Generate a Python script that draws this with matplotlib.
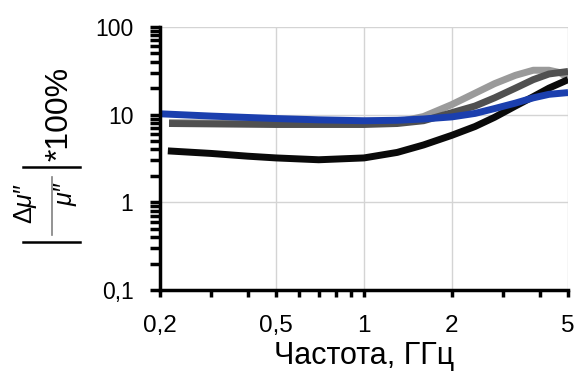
import matplotlib
matplotlib.use('Agg')
import matplotlib.pyplot as plt
from matplotlib.lines import Line2D
from matplotlib.ticker import FixedLocator, FixedFormatter, NullFormatter
import numpy as np

plt.rcParams['font.family'] = ['Liberation Sans', 'DejaVu Sans']
plt.rcParams['mathtext.fontset'] = 'custom'
plt.rcParams['mathtext.rm'] = 'Liberation Sans'
plt.rcParams['mathtext.it'] = 'Liberation Sans:italic'
plt.rcParams['mathtext.sf'] = 'Liberation Sans'

# частоты, ГГц
f_black = [0.213, 0.3, 0.4, 0.5, 0.7, 1.0, 1.3, 1.6, 2.0, 2.4, 2.8, 3.3, 3.8, 4.3, 5.0]
d_black = [3.85, 3.6, 3.35, 3.2, 3.05, 3.2, 3.7, 4.5, 5.8, 7.3, 9.3, 12.5, 16.0, 20.0, 25.0]

f_light = [0.215, 0.3, 0.5, 0.7, 1.0, 1.3, 1.6, 2.0, 2.4, 2.8, 3.3, 3.8, 4.3, 4.7, 5.0]
d_light = [8.1, 8.0, 7.9, 7.9, 7.9, 8.2, 9.5, 13.0, 17.5, 22.5, 28.0, 32.0, 32.0, 30.0, 26.0]

f_dark = [0.215, 0.5, 1.0, 1.3, 1.6, 2.0, 2.4, 2.8, 3.3, 3.8, 4.3, 5.0]
d_dark = [7.9, 7.7, 7.7, 7.9, 8.5, 10.5, 12.5, 15.5, 20.0, 25.0, 29.0, 31.0]

f_blue = [0.2, 0.3, 0.5, 0.7, 1.0, 1.3, 1.6, 2.0, 2.4, 2.8, 3.3, 3.8, 4.3, 5.0]
d_blue = [10.2, 9.6, 9.0, 8.7, 8.5, 8.6, 8.9, 9.4, 10.3, 11.7, 13.5, 15.5, 17.0, 17.8]

x_major = [0.2, 0.5, 1, 2, 5]
x_labels = ['0,2', '0,5', '1', '2', '5']
x_minor = [0.3, 0.4, 0.6, 0.7, 0.8, 0.9, 3, 4]
y_major = [0.1, 1, 10, 100]
y_labels = ['0,1', '1', '10', '100']

W, H = 575, 378
fig = plt.figure(figsize=(W / 100, H / 100), dpi=100)
ax = fig.add_axes([0.278, 0.233, 0.710, 0.696])

lw = 5.0
ax.plot(f_light, d_light, color='#9a9a9a', lw=lw, solid_capstyle='butt', zorder=3)
ax.plot(f_dark, d_dark, color='#505050', lw=lw, solid_capstyle='butt', zorder=4)
ax.plot(f_black, d_black, color='#0a0a0a', lw=lw, solid_capstyle='butt', zorder=5)
ax.plot(f_blue, d_blue, color='#1b3fae', lw=lw, solid_capstyle='butt', zorder=6)

ax.set_xscale('log')
ax.set_yscale('log')
ax.set_xlim(0.2, 5)
ax.set_ylim(0.1, 100)

ax.xaxis.set_major_locator(FixedLocator(x_major))
ax.xaxis.set_major_formatter(FixedFormatter(x_labels))
ax.xaxis.set_minor_locator(FixedLocator(x_minor))
ax.xaxis.set_minor_formatter(NullFormatter())
ax.yaxis.set_major_locator(FixedLocator(y_major))
ax.yaxis.set_major_formatter(FixedFormatter(y_labels))
ax.yaxis.set_minor_locator(FixedLocator([m * 10.0 ** e for e in (-1, 0, 1) for m in range(2, 10)]))
ax.yaxis.set_minor_formatter(NullFormatter())

ax.grid(True, which='major', color='#d4d4d4', lw=1.0, zorder=0)
for s in ('top', 'right'):
    ax.spines[s].set_visible(False)
for s in ('left', 'bottom'):
    ax.spines[s].set_linewidth(2.5)
    ax.spines[s].set_zorder(7)

ax.tick_params(axis='both', which='both', direction='out', width=2.5, color='black')
ax.tick_params(axis='x', which='both', length=5, labelsize=17.5, pad=13)
ax.tick_params(axis='y', which='both', length=7, labelsize=16.5, pad=12)

ax.set_xlabel('Частота, ГГц', fontsize=22, labelpad=3)


# подпись оси y собрана вручную: |Δμ″/μ″| *100%, повёрнута на 90°
def px(x, y):
    return x / W, 1 - y / H


lbl = dict(rotation=90, rotation_mode='anchor', ha='center', va='baseline')
fig.text(*px(32, 204), '$\\Delta\\mu$\u2033', fontsize=18, **lbl)
fig.text(*px(72, 194), '$\\mu$\u2033', fontsize=18, **lbl)
fig.text(*px(68, 114), '*100%', fontsize=23, **lbl)

for y in (167, 242):
    (x0, y0), (x1, _) = px(23, y), px(80, y)
    fig.add_artist(Line2D([x0, x1], [y0, y0], color='black', lw=1.8,
                          transform=fig.transFigure))
(fx, fy0), (_, fy1) = px(52, 177), px(52, 235)
fig.add_artist(Line2D([fx, fx], [fy0, fy1], color='#808080', lw=1.2,
                      transform=fig.transFigure))

fig.savefig('out.png', dpi=100)
